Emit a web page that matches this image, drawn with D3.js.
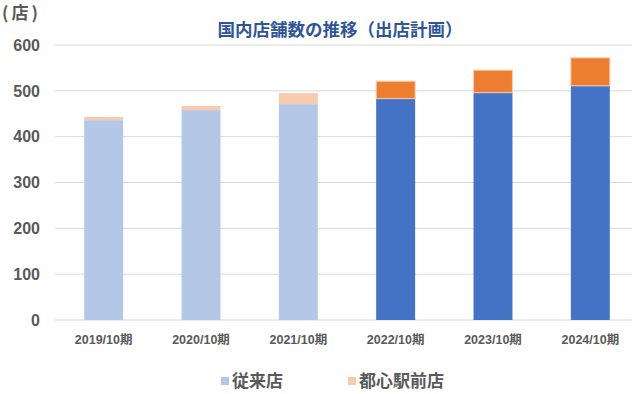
<!DOCTYPE html>
<html>
<head>
<meta charset="utf-8">
<script src="https://cdn.jsdelivr.net/npm/d3@7"></script>
<style>
  body { margin: 0; background: #fff; }
  text { font-family: "Liberation Sans", "Noto Sans CJK JP", sans-serif; font-weight: bold; fill: #595959; }
  .jp { font-family: "Noto Sans CJK JP", sans-serif; }
</style>
</head>
<body>
<div id="chart"></div>
<script>
const categories = ["2019/10期", "2020/10期", "2021/10期", "2022/10期", "2023/10期", "2024/10期"];
const conventional = [436, 458, 471, 483, 496, 511];   // 従来店
const station = [7, 9, 24, 38, 49, 61];                  // 都心駅前店
const yTicks = [0, 100, 200, 300, 400, 500, 600];
const seriesNames = ["従来店", "都心駅前店"];

// first three years are actuals (pale), later ones are plan
const planStart = 3;
const colors = {
    base: ["#b4c7e7", "#4472c4"],
    top: ["#f8cbad", "#ed7d31"]
};

const width = 638, height = 394;
const margin = { top: 45, right: 0, bottom: 74, left: 55 };

const svg = d3.select("#chart").append("svg")
    .attr("width", width)
    .attr("height", height);

const x = d3.scaleBand()
    .domain(categories)
    .range([margin.left, 639])
    .paddingInner(0.6)
    .paddingOuter(0.3);

const y = d3.scaleLinear()
    .domain([0, 600])
    .range([height - margin.bottom, margin.top]);

// gridlines
svg.append("g")
    .selectAll("line")
    .data(yTicks)
    .enter().append("line")
    .attr("x1", margin.left)
    .attr("x2", 632)
    .attr("y1", d => y(d))
    .attr("y2", d => y(d))
    .attr("stroke", "#d9d9d9")
    .attr("stroke-width", 1);

// y labels
svg.append("g")
    .selectAll("text")
    .data(yTicks)
    .enter().append("text")
    .attr("x", 40)
    .attr("y", d => y(d))
    .attr("dy", "0.36em")
    .attr("text-anchor", "end")
    .style("font-size", "16px")
    .text(d => d);

const rows = categories.map((c, i) => ({
    cat: c,
    plan: i >= planStart,
    base: conventional[i],
    top: station[i]
}));

const bars = svg.append("g")
    .selectAll("g")
    .data(rows)
    .enter().append("g");

bars.append("rect")
    .attr("x", d => x(d.cat))
    .attr("width", x.bandwidth())
    .attr("y", d => y(d.base))
    .attr("height", d => y(0) - y(d.base))
    .attr("fill", d => colors.base[d.plan ? 1 : 0]);

bars.append("rect")
    .attr("x", d => x(d.cat))
    .attr("width", x.bandwidth())
    .attr("y", d => y(d.base + d.top))
    .attr("height", d => y(d.base) - y(d.base + d.top))
    .attr("fill", d => colors.top[d.plan ? 1 : 0])
    .attr("stroke", d => d.plan ? "#f8cbad" : "none")
    .attr("stroke-width", 1);

// x labels
svg.append("g")
    .selectAll("text")
    .data(categories)
    .enter().append("text")
    .attr("x", d => x(d) + x.bandwidth() / 2)
    .attr("y", 344)
    .attr("text-anchor", "middle")
    .style("font-size", "12.5px")
    .text(d => d);

// title + unit
svg.append("text")
    .attr("class", "jp")
    .attr("x", 340)
    .attr("y", 36)
    .attr("text-anchor", "middle")
    .style("font-size", "17.5px")
    .style("fill", "#2f5597")
    .text("国内店舗数の推移（出店計画）");

svg.append("text")
    .attr("class", "jp")
    .attr("x", 2)
    .attr("y", 19)
    .style("font-size", "17px")
    .style("letter-spacing", "3px")
    .text("(店)");

// legend
const legendX = [221, 348];
const legend = svg.append("g")
    .selectAll("g")
    .data(seriesNames)
    .enter().append("g")
    .attr("transform", (d, i) => `translate(${legendX[i]},381)`);

legend.append("rect")
    .attr("x", 0)
    .attr("y", -4)
    .attr("width", 8)
    .attr("height", 8)
    .attr("fill", (d, i) => i === 0 ? colors.base[0] : colors.top[0]);

legend.append("text")
    .attr("class", "jp")
    .attr("x", 11)
    .attr("dy", "0.36em")
    .style("font-size", "17px")
    .text(d => d);
</script>
</body>
</html>
